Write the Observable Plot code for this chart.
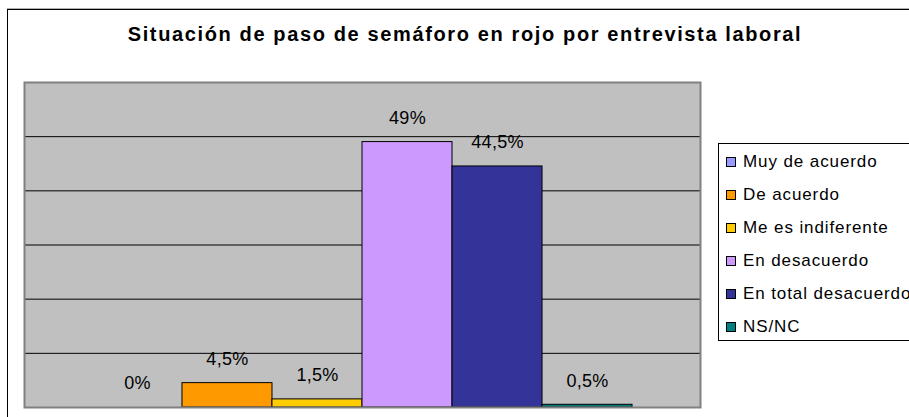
<!DOCTYPE html>
<html>
<head>
<meta charset="utf-8">
<script src="https://cdn.jsdelivr.net/npm/d3@7"></script>
<script src="https://cdn.jsdelivr.net/npm/@observablehq/plot@0.6"></script>
<style>
  html, body { margin: 0; padding: 0; background: #fff; }
  body { width: 909px; height: 417px; overflow: hidden; position: relative; font-family: "Liberation Sans", Arial, sans-serif; }
  #chart { position: absolute; left: 0; top: 0; }
  #outer { position: absolute; left: 7px; top: 9px; width: 1000px; height: 500px; border-left: 1px solid #000; border-top: 1px solid #000; box-shadow: 0 -1px 0 #b0b0b0; }
  #title { position: absolute; left: 465px; top: 24px; transform: translateX(-50%); white-space: nowrap; font-weight: bold; font-size: 20px; line-height: 20px; letter-spacing: 1.63px; color: #000; }
  #legend { position: absolute; left: 718px; top: 143px; width: 240px; height: 198px; border: 1px solid #000; background: #fff; box-sizing: border-box; padding-top: 1px; }
  .item { height: 33px; display: flex; align-items: center; font-size: 17px; letter-spacing: 0.9px; white-space: nowrap; color: #000; }
  .sw { width: 8px; height: 8px; border: 1px solid #000; margin-left: 7px; margin-right: 7px; flex: none; }
  g[aria-label="text"] text { letter-spacing: 0.3px; }
</style>
</head>
<body>
<div id="chart"></div>
<div id="outer"></div>
<div id="title">Situación de paso de semáforo en rojo por entrevista laboral</div>
<div id="legend"></div>
<script>
const categories = ["Muy de acuerdo", "De acuerdo", "Me es indiferente", "En desacuerdo", "En total desacuerdo", "NS/NC"];
const values = [0, 4.5, 1.5, 49, 44.5, 0.5];
const labels = ["0%", "4,5%", "1,5%", "49%", "44,5%", "0,5%"];
const colors = ["#9999FF", "#FF9900", "#FFCC00", "#CC99FF", "#333399", "#008080"];
const gridTicks = [10, 20, 30, 40, 50];

const data = categories.map((c, i) => ({category: c, value: values[i], label: labels[i]}));

const chart = Plot.plot({
  width: 909,
  height: 417,
  marginLeft: 24,
  marginRight: 209,
  marginTop: 82,
  marginBottom: 10,
  style: {fontFamily: "'Liberation Sans', Arial, sans-serif", background: "transparent"},
  x: {domain: categories, paddingInner: 0, paddingOuter: 0.755, round: false, axis: null},
  y: {domain: [0, 60], axis: null},
  color: {domain: categories, range: colors},
  marks: [
    Plot.frame({fill: "#C0C0C0", stroke: null}),
    Plot.ruleY(gridTicks, {stroke: "#000", strokeWidth: 1}),
    Plot.barY(data.filter(d => d.value > 0), {x: "category", y: "value", fill: "category", stroke: "#000", strokeWidth: 1}),
    Plot.frame({stroke: "#808080", strokeWidth: 2}),
    Plot.text(data, {x: "category", y: "value", text: "label", dy: -24, fontSize: 18, fill: "#000"})
  ]
});
document.getElementById("chart").appendChild(chart);

const legend = document.getElementById("legend");
categories.forEach((c, i) => {
  const row = document.createElement("div");
  row.className = "item";
  const sw = document.createElement("span");
  sw.className = "sw";
  sw.style.background = colors[i];
  const t = document.createElement("span");
  t.textContent = c;
  row.appendChild(sw);
  row.appendChild(t);
  legend.appendChild(row);
});
</script>
</body>
</html>
